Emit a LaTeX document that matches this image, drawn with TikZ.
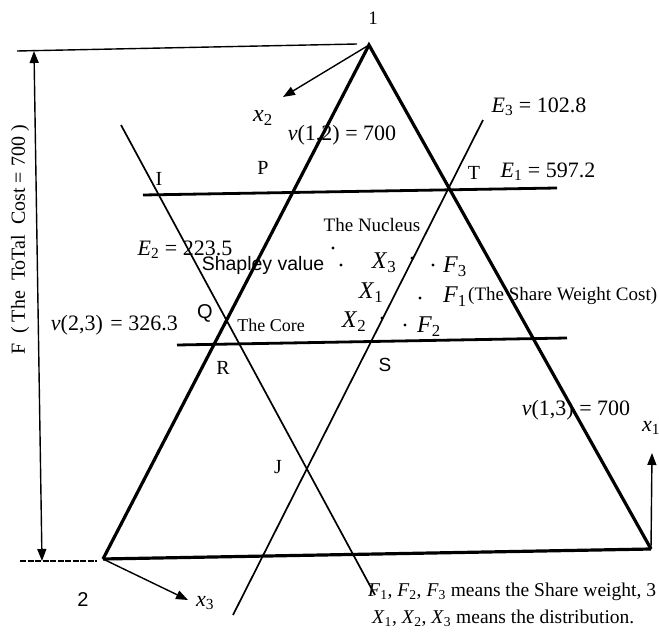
\documentclass[tikz,border=0pt]{standalone}
\usepackage{fontspec}
\setmainfont{Liberation Serif}
\newfontfamily\sansf{Liberation Sans}
\usetikzlibrary{arrows.meta}
\newcommand{\Sb}[2]{\textit{#1}\textsubscript{#2}}
\tikzset{
  lbl/.style={inner sep=0pt, font=\fontsize{19}{21}\selectfont},
  letter/.style={inner sep=0pt, font=\fontsize{20}{22}\selectfont},
  eq/.style={inner sep=0pt, font=\fontsize{22}{24}\selectfont},
  note/.style={inner sep=0pt, font=\fontsize{19.5}{22}\selectfont},
  slbl/.style={inner sep=0pt, font=\sansf\fontsize{20}{22}\selectfont},
  big/.style={inner sep=0pt, font=\fontsize{24}{26}\selectfont},
  edge/.style={line width=3.2pt},
  thin/.style={line width=1.7pt},
  hline/.style={line width=2.8pt},
  ref/.style={line width=1.4pt},
  tip/.style={-{Triangle[length=12pt,width=9pt]}},
  dot/.style={circle, fill, inner sep=0pt, minimum size=3.2pt}
}
\begin{document}
\begin{tikzpicture}[x=1pt,y=-1pt]
\useasboundingbox (0,0) rectangle (659,636);
% vertices and line ends
\coordinate (v1) at (369,45);
\coordinate (v2) at (103,559);
\coordinate (v3) at (651,549);
\coordinate (ta) at (17,51);
\coordinate (tb) at (357,44);
\coordinate (da) at (34,51);
\coordinate (db) at (42,561);
\coordinate (ba) at (20,561);
\coordinate (bb) at (97,561);
\coordinate (e2a) at (121,125);
\coordinate (e2b) at (375,595);
\coordinate (e3a) at (483,120);
\coordinate (e3b) at (233,615);
\coordinate (e1a) at (143,195);
\coordinate (e1b) at (557,188);
\coordinate (la) at (177,345);
\coordinate (lb) at (567,338);
\coordinate (x2t) at (283,97);
\coordinate (x3t) at (188,600);
\coordinate (x1t) at (652,453);
% triangle
\draw[edge, line join=miter] (v2) -- (v1) -- (v3);
\draw[edge] (v2) -- (v3);
% lines
\draw[thin] (e2a) -- (e2b);
\draw[thin] (e3a) -- (e3b);
\draw[hline] (e1a) -- (e1b);
\draw[hline] (la) -- (lb);
% reference lines
\draw[ref] (ta) -- (tb);
\draw[ref, dash pattern=on 6pt off 1.5pt] (ba) -- (bb);
\draw[ref, {Triangle[length=12pt,width=9pt]}-{Triangle[length=12pt,width=9pt]}] (da) -- (db);
% axis arrows
\draw[ref, tip] (v1) -- (x2t);
\draw[ref, tip] (v2) -- (x3t);
\draw[ref, tip] (v3) -- (x1t);
% labels
\node[lbl] (n1) at (373,18) {1};
\node[slbl] (n2) at (83,600) {2};
\node[big] (lx2) at (263,118) {\Sb{x}{2}};
\node[eq] (lx3) at (205,603) {\Sb{x}{3}};
\node[eq] (lx1) at (651,428) {\Sb{x}{1}};
\node[eq] (v12) at (342,135) {\textit{ν}(1,2) = 700};
\node[eq] (v13) at (576,410) {\textit{ν}(1,3) = 700};
\node[eq, anchor=east] (v23) at (178,325) {\textit{ν}(2,3)\hspace{2pt} = 326.3};
\node[eq] (le3) at (539,107) {\Sb{E}{3} = 102.8};
\node[eq] (le1) at (548,172) {\Sb{E}{1} = 597.2};
\node[eq] (le2) at (185,250) {\Sb{E}{2} = 223.5};
\node[letter] (lT) at (474,173) {T};
\node[letter] (lI) at (159,179) {I};
\node[letter] (lP) at (263,168) {P};
\node[slbl] (lQ) at (205,313) {Q};
\node[letter] (lR) at (223,368) {R};
\node[slbl, font=\sansf\fontsize{19}{21}\selectfont] (lS) at (385,365) {S};
\node[letter] (lJ) at (278,467) {J};
\node[lbl] (nuc) at (372,225) {The Nucleus};
\node[lbl, font=\fontsize{18}{20}\selectfont] (core) at (271,325) {The Core};
\node[slbl, font=\sansf\fontsize{19.5}{21}\selectfont] (shap) at (263,265) {Shapley value};
\node[big] (X3) at (384,263) {\Sb{X}{3}};
\node[big] (F3) at (455,267) {\Sb{F}{3}};
\node[big] (X1) at (371,293) {\Sb{X}{1}};
\node[big] (F1) at (455,297) {\Sb{F}{1}};
\node[lbl, anchor=west] (swc) at (468,296) {(The Share Weight Cost)};
\node[big] (X2) at (354,322) {\Sb{X}{2}};
\node[big] (F2) at (429,327) {\Sb{F}{2}};
% dots
\node[dot] (d1) at (333,248) {};
\node[dot] (d2) at (341,265) {};
\node[dot] (d3) at (412,258) {};
\node[dot] (d4) at (433,265) {};
\node[dot] (d5) at (420,298) {};
\node[dot] (d6) at (382,318) {};
\node[dot] (d7) at (405,325) {};
% bottom notes
\node[note, anchor=west] (note1) at (368,592) {\Sb{F}{1}, \Sb{F}{2}, \Sb{F}{3} means the Share weight, 3};
\node[note, anchor=west] (note2) at (372,618) {\Sb{X}{1}, \Sb{X}{2}, \Sb{X}{3} means the distribution.};
% left label
\node[inner sep=0pt, font=\fontsize{20}{22}\selectfont, rotate=90] (tot) at (20,240) {F~~( The~~ToTal~~Cost = 700 )};
\end{tikzpicture}
\end{document}
